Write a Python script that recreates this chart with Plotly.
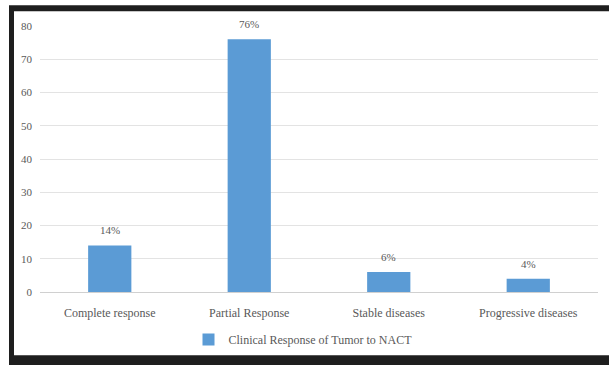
import plotly.graph_objects as go

categories = ["Complete response", "Partial Response", "Stable diseases", "Progressive diseases"]
values = [14, 76, 6, 4]
labels = ["14%", "76%", "6%", "4%"]
series_name = "Clinical Response of Tumor to NACT"
y_ticks = [0, 10, 20, 30, 40, 50, 60, 70, 80]

W, H = 609, 365
L, R, T, B = 40, 11, 26, 70
pw, ph = W - L - R, H - T - B

def px(x):
    return (x - L) / pw

def py(y):
    return (H - B - y) / ph

font = "Liberation Serif"
grey = "#595959"

fig = go.Figure()
fig.add_trace(go.Bar(
    x=categories, y=values, name=series_name,
    marker=dict(color="#5B9BD5", line=dict(width=0)),
    showlegend=True,
))

for c, v, t in zip(categories, values, labels):
    fig.add_annotation(x=c, y=v, text=t, showarrow=False, yanchor="bottom",
                       yshift=7, font=dict(family=font, size=11, color=grey))

fig.add_shape(type="rect", xref="paper", yref="paper", layer="below",
              x0=px(9), x1=px(700), y0=py(5), y1=py(400),
              fillcolor="#1e1e1e", line=dict(width=0))
fig.add_shape(type="rect", xref="paper", yref="paper", layer="below",
              x0=px(14), x1=px(700), y0=py(11), y1=py(359),
              fillcolor="white", line=dict(width=0))

fig.update_layout(
    width=W, height=H,
    margin=dict(l=L, r=R, t=T, b=B),
    paper_bgcolor="white",
    plot_bgcolor="rgba(0,0,0,0)",
    bargap=0.69,
    font=dict(family=font, size=12, color=grey),
    showlegend=True,
    legend=dict(orientation="h", x=px(303), xanchor="center", y=py(343), yanchor="middle",
                font=dict(family=font, size=12, color=grey), bgcolor="rgba(0,0,0,0)"),
    xaxis=dict(showgrid=False, showline=False, ticks="", ticklabelstandoff=12,
               tickfont=dict(family=font, size=12, color=grey)),
    yaxis=dict(range=[0, 80], tickvals=y_ticks, showgrid=True, gridcolor="#e3e3e3", gridwidth=1,
               zeroline=True, zerolinecolor="#d0d0d0", zerolinewidth=1,
               ticks="", ticklen=0, ticklabelstandoff=7,
               tickfont=dict(family=font, size=11, color=grey)),
)

fig.write_html("out.html")
